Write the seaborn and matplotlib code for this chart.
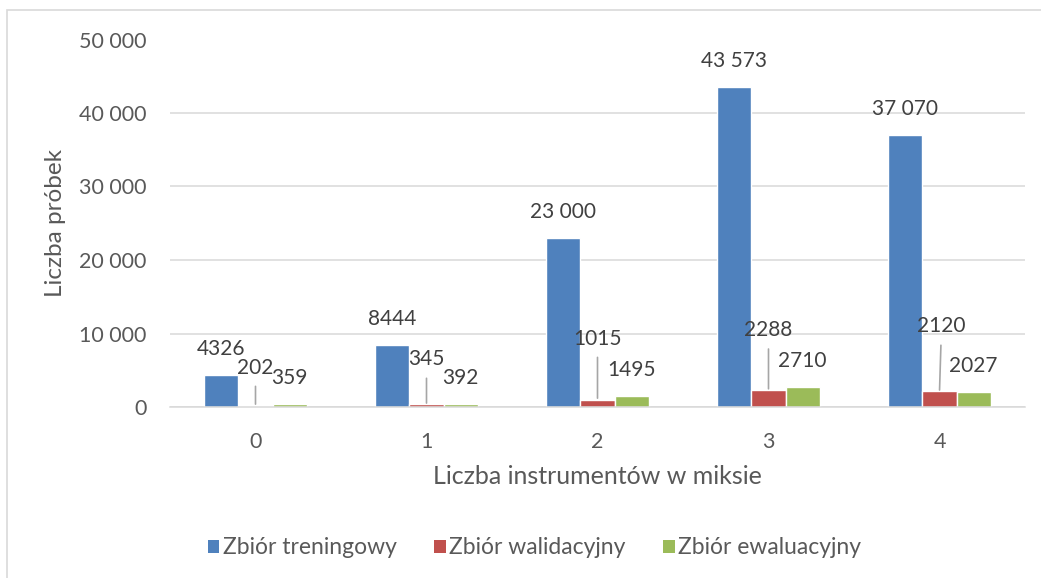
import matplotlib
matplotlib.use("Agg")
import matplotlib.pyplot as plt
from matplotlib.patches import Rectangle
from matplotlib.ticker import FuncFormatter
import seaborn as sns
import pandas as pd

# Number of instruments in the mix
categories = ["0", "1", "2", "3", "4"]
series_names = ["Zbiór treningowy", "Zbiór walidacyjny", "Zbiór ewaluacyjny"]
train_counts = [4326, 8444, 23000, 43573, 37070]
valid_counts = [202, 345, 1015, 2288, 2120]
eval_counts = [359, 392, 1495, 2710, 2027]
y_ticks = [0, 10000, 20000, 30000, 40000, 50000]

colors = ["#4F81BD", "#C0504D", "#9BBB59"]

# Label placement (pixels above bar top); validation labels sit higher with a leader line
label_lift = 26
valid_lift = [38, 45, 61, 60, 65]
valid_dx = [0, 0, 0, 0, 2]

rows = []
for name, vals in zip(series_names, [train_counts, valid_counts, eval_counts]):
    for c, v in zip(categories, vals):
        rows.append({"cat": c, "value": v, "set": name})
df = pd.DataFrame(rows)

sns.set_theme(style="white")
plt.rcParams["font.family"] = ["Lato", "DejaVu Sans"]

W, H = 1041, 578
fig = plt.figure(figsize=(W / 100, H / 100), dpi=100)
ax = fig.add_axes([170 / W, 1 - 407 / H, (1025 - 170) / W, (407 - 39.5) / H])

sns.barplot(data=df, x="cat", y="value", hue="set", order=categories,
            hue_order=series_names, palette=colors, saturation=1, width=0.6,
            edgecolor="white", linewidth=1.0, ax=ax, legend=False)


def fmt(v):
    v = int(round(v))
    if v >= 10000:
        return f"{v:,}".replace(",", " ")
    return str(v)


ax.set_ylim(0, 50000)
ax.set_xlim(-0.5, len(categories) - 0.5)
ax.set_yticks(y_ticks)
ax.yaxis.set_major_formatter(FuncFormatter(lambda v, p: fmt(v)))
ax.grid(axis="y", color="#d9d9d9", linewidth=1.1)
ax.set_axisbelow(True)
for s in ["top", "right", "left"]:
    ax.spines[s].set_visible(False)
ax.spines["bottom"].set_color("#d9d9d9")
ax.spines["bottom"].set_linewidth(1.1)
ax.tick_params(axis="both", length=0, labelsize=15.5, labelcolor="#595959")
ax.tick_params(axis="x", pad=18)
ax.tick_params(axis="y", pad=17)

ax.set_xlabel("Liczba instrumentów w miksie", fontsize=18, color="#595959", labelpad=9)
ax.set_ylabel("Liczba próbek", fontsize=17.5, color="#595959", labelpad=9)

label_kw = dict(ha="center", va="center", fontsize=15, color="#404040",
                textcoords="offset pixels")

train_bars, valid_bars, eval_bars = ax.containers[:3]
for bar, v in zip(train_bars, train_counts):
    x = bar.get_x() + bar.get_width() / 2
    ax.annotate(fmt(v), (x, v), xytext=(0, label_lift), **label_kw)
for bar, v in zip(eval_bars, eval_counts):
    x = bar.get_x() + bar.get_width() / 2
    ax.annotate(fmt(v), (x, v), xytext=(0, label_lift), **label_kw)
for bar, v, lift, dx in zip(valid_bars, valid_counts, valid_lift, valid_dx):
    x = bar.get_x() + bar.get_width() / 2
    ax.annotate(fmt(v), (x, v), xytext=(dx, lift),
                arrowprops=dict(arrowstyle="-", color="#a6a6a6", lw=1.2,
                                shrinkA=4, shrinkB=1),
                **label_kw)

handles = [Rectangle((0, 0), 1, 1, facecolor=c, edgecolor="none") for c in colors]
fig.legend(handles, series_names, loc="center", bbox_to_anchor=(534.5 / W, 1 - 548 / H),
           ncol=3, frameon=False, fontsize=16.5, labelcolor="#595959",
           handlelength=0.5, handleheight=0.5, handletextpad=0.15,
           columnspacing=1.65)

# outer chart frame
fig.add_artist(Rectangle((6.5 / W, -0.1), 1.2, 1 - 10.5 / H + 0.1,
                         transform=fig.transFigure, fill=False,
                         edgecolor="#d9d9d9", linewidth=1.2))

fig.savefig("out.png", dpi=100, facecolor="white")
